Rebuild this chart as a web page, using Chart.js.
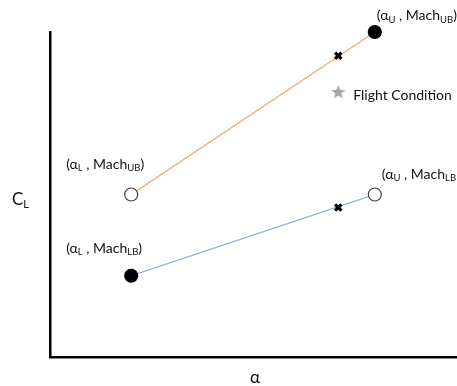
<!DOCTYPE html>
<html><head><meta charset="utf-8">
<script src="https://cdn.jsdelivr.net/npm/chart.js@4"></script>
<style>html,body{margin:0;padding:0;background:#fff}</style>
</head><body><canvas id="c" width="457" height="386"></canvas>
<script>
// ---- data ----
const alphaBounds = [2.0, 8.0];          // alpha_L, alpha_U
const clMachLB = [2.5, 5.0];             // C_L at Mach_LB for alpha_L, alpha_U
const clMachUB = [5.0, 10.0];            // C_L at Mach_UB for alpha_L, alpha_U
const flightAlpha = 7.1;
const interpLB = 4.6;                    // interpolated C_L on Mach_LB line
const interpUB = 9.27;                   // interpolated C_L on Mach_UB line
const flightCL = 8.15;
const pointLabels = [
  {x: alphaBounds[1], y: clMachUB[1], a: 'U', m: 'UB', close: ')'},
  {x: alphaBounds[0], y: clMachUB[0], a: 'L', m: 'UB', close: ')'},
  {x: alphaBounds[1], y: clMachLB[1], a: 'U', m: 'LB', close: ''},
  {x: alphaBounds[0], y: clMachLB[0], a: 'L', m: 'LB', close: ')'}
];
const legendText = 'Flight Condition';
const xTitle = 'α';
const yTitle = ['C', 'L'];

const FONT = 'Lato, "Open Sans", sans-serif';

// star marker image
const star = document.createElement('canvas');
star.width = 16; star.height = 16;
(function(){
  const g = star.getContext('2d');
  g.fillStyle = '#a6a6a6';
  g.beginPath();
  for (let i = 0; i < 10; i++) {
    const r = i % 2 === 0 ? 7.5 : 3.2;
    const ang = -Math.PI/2 + i * Math.PI/5;
    const px = 8 + r*Math.cos(ang), py = 8.3 + r*Math.sin(ang);
    if (i === 0) g.moveTo(px, py); else g.lineTo(px, py);
  }
  g.closePath(); g.fill();
})();

function richText(ctx, x, yMid, parts, big, small) {
  let cx = x;
  for (const [t, sub] of parts) {
    ctx.font = (sub ? small : big) + 'px ' + FONT;
    ctx.textBaseline = 'alphabetic';
    ctx.fillText(t, cx, yMid + (sub ? big*0.55 : big*0.36));
    cx += ctx.measureText(t).width;
  }
}

const labelPlugin = {
  id: 'labels',
  afterDatasetsDraw(chart) {
    const ctx = chart.ctx;
    const xs = chart.scales.x, ys = chart.scales.y;
    ctx.save();
    ctx.fillStyle = '#111';
    const offs = [[2, -17], [-65, -31], [7, -21], [-65, -28]];
    pointLabels.forEach((p, i) => {
      const px = xs.getPixelForValue(p.x) + offs[i][0];
      const py = ys.getPixelForValue(p.y) + offs[i][1];
      richText(ctx, px, py, [['(α', false], [p.a, true], [' , Mach', false], [p.m, true], [p.close, false]], 14, 9.5);
    });
    const lx = xs.getPixelForValue(flightAlpha) + 15;
    const ly = ys.getPixelForValue(flightCL) + 3;
    richText(ctx, lx, ly, [[legendText, false]], 14, 9.5);
    richText(ctx, 250, 377, [[xTitle, false]], 17, 10);
    richText(ctx, 12, 199, [[yTitle[0], false], [yTitle[1], true]], 17, 11);
    ctx.restore();
  }
};

new Chart(document.getElementById('c'), {
  type: 'scatter',
  data: {
    datasets: [
      { label: 'UB interp', data: [{x: flightAlpha, y: interpUB}], pointStyle: 'crossRot', radius: 4.5, borderWidth: 3.2, borderColor: '#000', order: 1 },
      { label: 'LB interp', data: [{x: flightAlpha, y: interpLB}], pointStyle: 'crossRot', radius: 4.5, borderWidth: 3.2, borderColor: '#000', order: 1 },
      { label: 'Flight', data: [{x: flightAlpha, y: flightCL}], pointStyle: star, order: 1 },
      { label: 'Mach UB', data: alphaBounds.map((a, i) => ({x: a, y: clMachUB[i]})), showLine: true,
        borderColor: '#f4a46c', borderWidth: 1.2,
        pointBackgroundColor: ['#fff', '#000'], pointBorderColor: ['#404040', '#000'], pointBorderWidth: 1.2,
        pointRadius: 6.5, order: 2 },
      { label: 'Mach LB', data: alphaBounds.map((a, i) => ({x: a, y: clMachLB[i]})), showLine: true,
        borderColor: '#7ea3e2', borderWidth: 1.2,
        pointBackgroundColor: ['#000', '#fff'], pointBorderColor: ['#000', '#404040'], pointBorderWidth: 1.2,
        pointRadius: 6.5, order: 2 }
    ]
  },
  options: {
    responsive: false, animation: false, clip: false,
    layout: { autoPadding: false, padding: { left: 50, right: 1, top: 32, bottom: 29 } },
    plugins: { legend: { display: false }, tooltip: { enabled: false } },
    elements: { point: { hoverRadius: 6.5 } },
    scales: {
      x: { type: 'linear', min: 0, max: 10, ticks: { display: false }, grid: { display: false, drawTicks: false },
           border: { display: true, color: '#000', width: 2.5 } },
      y: { type: 'linear', min: 0, max: 10, ticks: { display: false }, grid: { display: false, drawTicks: false },
           border: { display: true, color: '#000', width: 2.5 } }
    }
  },
  plugins: [labelPlugin]
});
</script></body></html>
